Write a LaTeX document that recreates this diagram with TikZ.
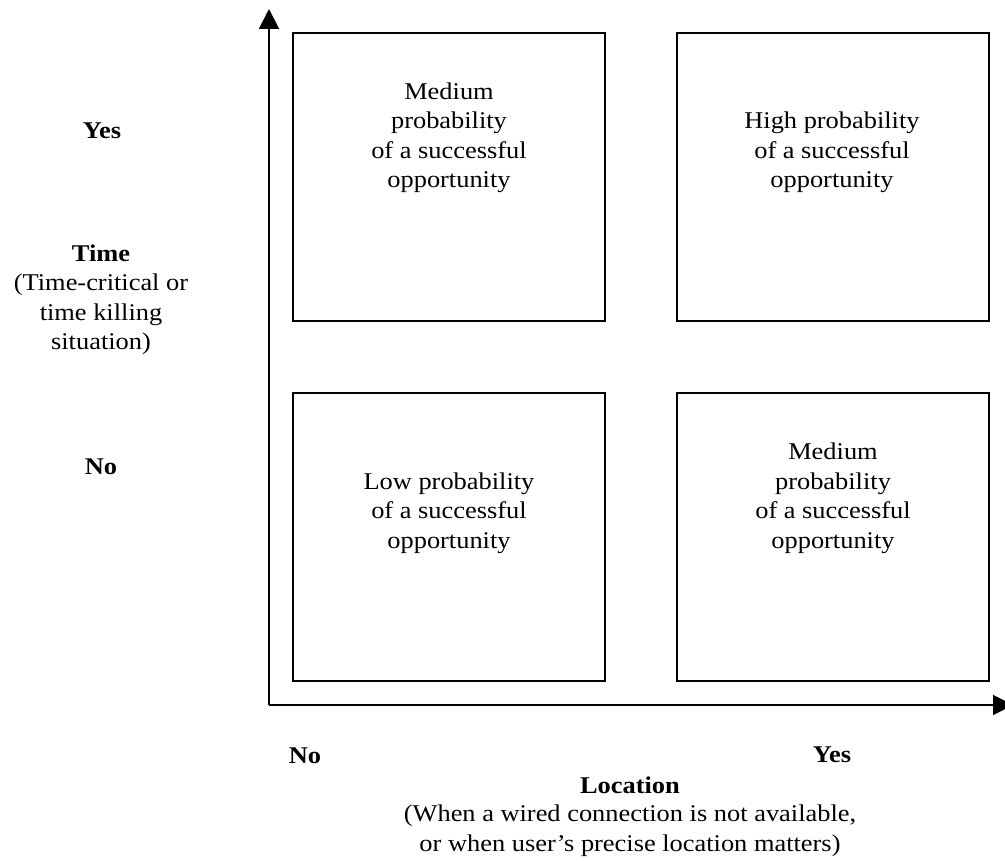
\documentclass[tikz,border=0pt]{standalone}
\usepackage{fontspec}
\setmainfont{Liberation Serif}[FakeStretch=1.1]
\usetikzlibrary{arrows.meta}

\begin{document}
\begin{tikzpicture}[x=1pt,y=-1pt,
  quadrant/.style={draw, line width=2pt, minimum width=312pt, minimum height=288pt, inner sep=0pt},
  txt/.style={align=center, inner sep=0pt, anchor=base, font=\fontsize{24}{29.5}\selectfont},
  bold/.style={txt, font=\fontsize{24}{29.5}\selectfont\bfseries},
  axis/.style={line width=2pt, -{Triangle[length=20pt,width=20pt]}}
]
\useasboundingbox (0,0) rectangle (1005,861);

% axes
\coordinate (origin) at (269,705);
\coordinate (ytip) at (269,9);
\coordinate (xtip) at (1013,705);
\draw[axis] (origin) -- (ytip);
\draw[axis] (origin) -- (xtip);

% quadrants
\node[quadrant] (tl) at (449,177) {};
\node[quadrant] (tr) at (833,177) {};
\node[quadrant] (bl) at (449,537) {};
\node[quadrant] (br) at (833,537) {};

% quadrant texts (anchored at the baseline of their last line)
\node[txt] (tltext) at (449,188) {Medium\\probability\\of a successful\\opportunity};
\node[txt] (trtext) at (832,188) {High probability\\of a successful\\opportunity};
\node[txt] (bltext) at (449,548) {Low probability\\of a successful\\opportunity};
\node[txt] (brtext) at (833,548) {Medium\\probability\\of a successful\\opportunity};

% vertical axis labels
\node[bold] (yyes) at (102,139) {Yes};
\node[bold] (ytitle) at (101,262) {Time};
\node[txt] (ydesc) at (101,350) {(Time-critical or\\time killing\\situation)};
\node[bold] (yno) at (101,474) {No};

% horizontal axis labels
\node[bold] (xno) at (305,763) {No};
\node[bold] (xyes) at (832,762) {Yes};
\node[bold] (xtitle) at (630,793) {Location};
\node[txt] (xdesc) at (630,851) {(When a wired connection is not available,\\or when user’s precise location matters)};
\end{tikzpicture}
\end{document}
